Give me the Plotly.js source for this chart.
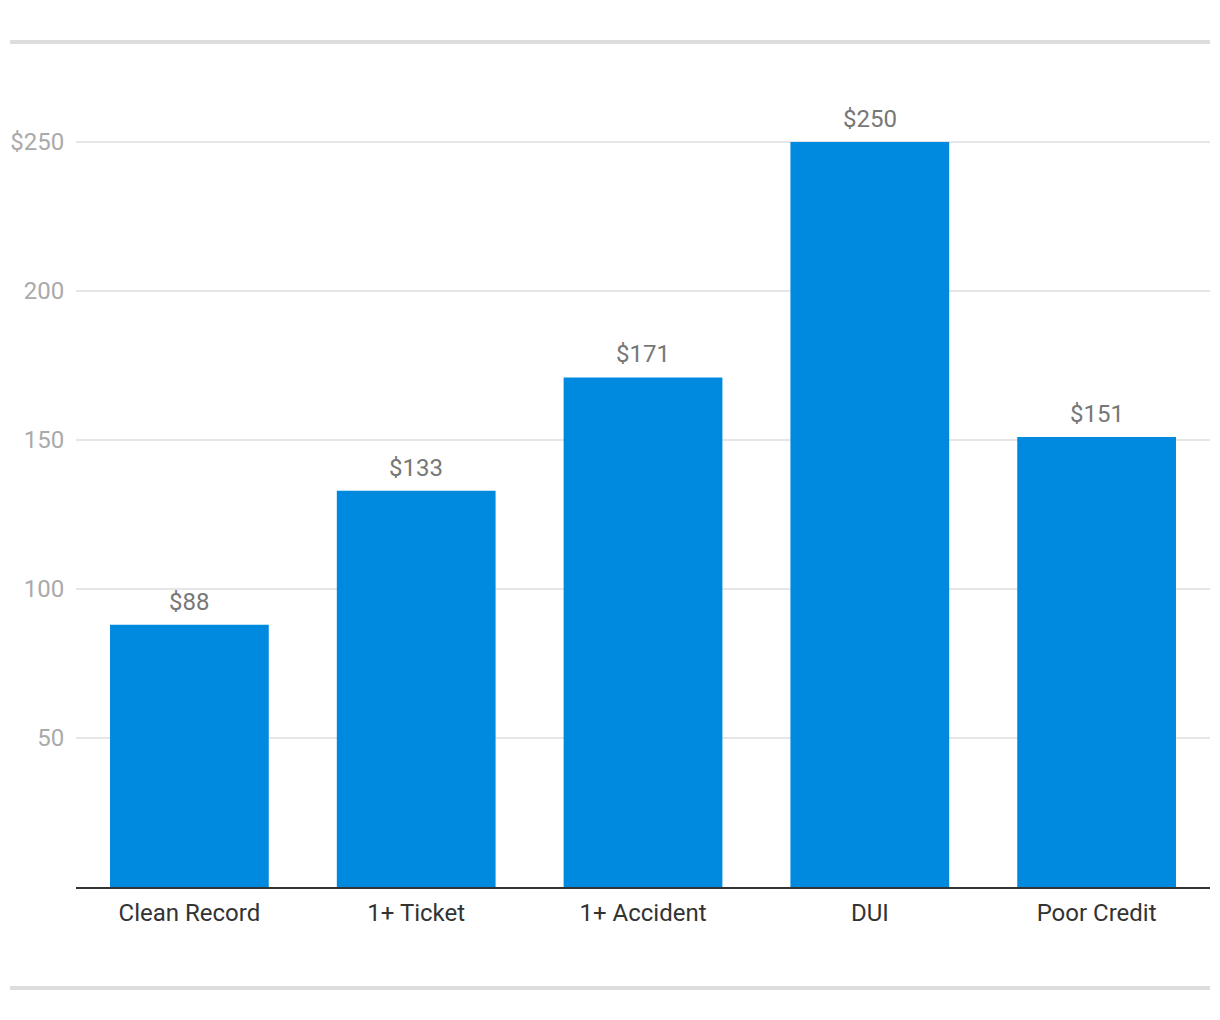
<!DOCTYPE html>
<html><head><meta charset="utf-8">
<script src="https://cdn.plot.ly/plotly-3.0.1.min.js"></script>
<style>html,body{margin:0;padding:0;background:#fff}#chart{width:1220px;height:1020px}</style>
</head><body><div id="chart"></div>
<script>
var categories = ["Clean Record", "1+ Ticket", "1+ Accident", "DUI", "Poor Credit"];
var values = [88, 133, 171, 250, 151];
var yTickVals = [50, 100, 150, 200, 250];
var yTickText = ["50", "100", "150", "200", "$250"];

var trace = {
  type: "bar",
  x: categories,
  y: values,
  marker: {color: "#008ADF"},
  hoverinfo: "none"
};

var annotations = categories.map(function(c, i){
  return {x: c, y: values[i], text: "$" + values[i], showarrow: false,
    xanchor: "center", yanchor: "bottom", yshift: 7,
    font: {family: "Roboto, sans-serif", size: 24, color: "#777777"}};
});

var layout = {
  width: 1220, height: 1020,
  margin: {l: 76, r: 10, t: 100, b: 133},
  paper_bgcolor: "#ffffff", plot_bgcolor: "#ffffff",
  bargap: 0.3,
  showlegend: false,
  font: {family: "Roboto, sans-serif"},
  xaxis: {
    type: "category",
    showgrid: false,
    showline: true, linecolor: "#333333", linewidth: 2,
    ticks: "outside", ticklen: 3, tickcolor: "rgba(0,0,0,0)",
    tickfont: {family: "Roboto, sans-serif", size: 24, color: "#333333"},
    fixedrange: true
  },
  yaxis: {
    range: [0, 264.1],
    tickvals: yTickVals, ticktext: yTickText,
    showgrid: true, gridcolor: "#e6e6e6", gridwidth: 1.5,
    zeroline: false, showline: false,
    ticks: "outside", ticklen: 6, tickcolor: "rgba(0,0,0,0)",
    tickfont: {family: "Roboto, sans-serif", size: 24, color: "#aaaaaa"},
    fixedrange: true
  },
  annotations: annotations,
  shapes: [
    {type: "line", xref: "paper", yref: "paper", x0: -0.0582, x1: 1, y0: 1.0737, y1: 1.0737,
     line: {color: "#dddddd", width: 4}},
    {type: "line", xref: "paper", yref: "paper", x0: -0.0582, x1: 1, y0: -0.1283, y1: -0.1283,
     line: {color: "#dddddd", width: 4}}
  ]
};

Plotly.newPlot("chart", [trace], layout, {displayModeBar: false, staticPlot: true});
</script>
</body></html>
